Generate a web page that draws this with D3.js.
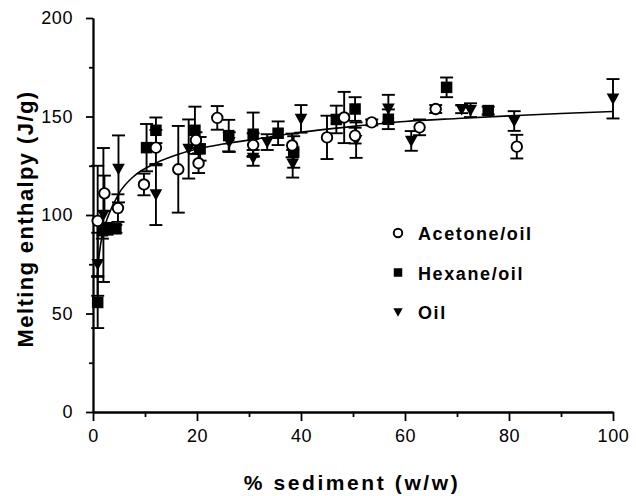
<!DOCTYPE html>
<html>
<head>
<meta charset="utf-8">
<script src="https://cdn.jsdelivr.net/npm/d3@7"></script>
<style>
  html, body { margin: 0; padding: 0; background: #fff; }
  svg { display: block; }
  text { font-family: "Liberation Sans", Arial, Helvetica, sans-serif; fill: #000; }
</style>
</head>
<body>
<svg id="chart" width="636" height="496"></svg>
<script>
// Acetone/oil extracts (open circles)
const acetoneX   = [0.9, 2.2, 4.8, 9.8, 12.1, 16.4, 19.8, 20.3, 23.9, 30.8, 38.3, 45.0, 48.3, 50.4, 53.6, 62.8, 65.9, 81.5];
const acetoneY   = [97, 111, 103.5, 115.5, 134.2, 123.2, 138, 126.3, 149.3, 135.5, 135.3, 139.4, 149.5, 140.3, 147, 144.5, 153.8, 134.7];
const acetoneErr = [28, 9, 7, 5.5, 9, 22, 4, 5, 6, 6, 6, 11, 13, 4, 1.5, 4, 2, 6];

// Hexane/oil extracts (filled squares)
const hexaneX   = [0.9, 1.8, 2.7, 4.4, 10.3, 12.1, 19.6, 20.6, 26.1, 30.8, 35.6, 38.6, 46.8, 50.4, 56.8, 68.0, 76.0];
const hexaneY   = [55.6, 92, 93, 93, 134.2, 143, 143, 133.6, 140.3, 141, 141.5, 132, 148.5, 153.8, 148.6, 164.8, 153];
const hexaneErr = [13, 4, 3, 2, 12, 6.5, 12, 6, 8, 11, 6, 8, 7, 6, 5, 5, 2];

// Oil only (filled down triangles)
const oilX   = [0.9, 2.0, 4.9, 12.1, 18.4, 26.2, 30.8, 33.5, 38.4, 40.0, 50.6, 56.8, 61.2, 70.9, 72.6, 81.0, 100];
const oilY   = [75, 100, 123.4, 110.4, 133.5, 137, 129, 137, 126, 148.8, 138, 154, 137.6, 153.7, 153.2, 147.7, 159];
const oilErr = [16, 34, 17, 15.5, 15, 5, 4, 4, 7, 7, 9, 7, 5, 2, 3.5, 5, 10];

// Fitted saturation curve through all extracts
const fitX = [0.8, 1.2, 2, 3, 5, 8, 11, 16, 20, 25, 30, 40, 50, 60, 70, 80, 90, 100];
const fitY = [68, 80, 92, 100, 111, 120, 125, 130.5, 133.5, 136, 138, 142, 145, 147.5, 149, 150.3, 151.5, 152.5];

// Axis ticks
const xMajorTicks = [0, 20, 40, 60, 80, 100];
const xMinorTicks = [10, 30, 50, 70, 90];
const yMajorTicks = [0, 50, 100, 150, 200];
const yMinorTicks = [25, 75, 125, 175];

const legendLabels = ["Acetone/oil", "Hexane/oil", "Oil"];

const svg = d3.select("#chart");
const x = d3.scaleLinear().domain([0, 100]).range([93, 613]);
const y = d3.scaleLinear().domain([0, 200]).range([412, 18]);

// Axes
const xAxis = d3.axisBottom(x).tickValues(xMajorTicks).tickSize(9).tickSizeOuter(0).tickPadding(8);
const xAxisMinor = d3.axisBottom(x).tickValues(xMinorTicks).tickSize(5).tickSizeOuter(0).tickFormat("");
const yAxis = d3.axisLeft(y).tickValues(yMajorTicks).tickSize(7).tickSizeOuter(0).tickPadding(13);
const yAxisMinor = d3.axisLeft(y).tickValues(yMinorTicks).tickSize(4).tickSizeOuter(0).tickFormat("");

function styleAxis(g) {
  g.selectAll("path, line").attr("stroke", "#000").attr("stroke-width", 1.8);
  g.selectAll("text").attr("font-size", 18).attr("fill", "#000")
    .attr("letter-spacing", 0.6)
    .style("font-family", '"Liberation Sans", Arial, sans-serif');
}

svg.append("g").attr("transform", `translate(0,${y(0)})`).call(xAxisMinor).call(styleAxis);
svg.append("g").attr("transform", `translate(0,${y(0)})`).call(xAxis).call(styleAxis);
svg.append("g").attr("transform", `translate(${x(0)},0)`).call(yAxisMinor).call(styleAxis);
svg.append("g").attr("transform", `translate(${x(0)},0)`).call(yAxis).call(styleAxis);

// Axis titles
svg.append("text")
  .attr("x", 352).attr("y", 490)
  .attr("text-anchor", "middle")
  .attr("font-size", 21).attr("font-weight", "bold")
  .attr("letter-spacing", 2.6)
  .text("% sediment (w/w)");

svg.append("text")
  .attr("transform", "translate(33,219) rotate(-90)")
  .attr("text-anchor", "middle")
  .attr("font-size", 22).attr("font-weight", "bold")
  .attr("letter-spacing", 1.4)
  .text("Melting enthalpy (J/g)");

// Fitted curve
const line = d3.line().x((d, i) => x(fitX[i])).y((d, i) => y(fitY[i])).curve(d3.curveMonotoneX);
svg.append("path")
  .datum(fitX)
  .attr("d", line)
  .attr("fill", "none")
  .attr("stroke", "#000")
  .attr("stroke-width", 1.6);

const series = [
  { name: legendLabels[0], xs: acetoneX, ys: acetoneY, es: acetoneErr, shape: "circle" },
  { name: legendLabels[1], xs: hexaneX, ys: hexaneY, es: hexaneErr, shape: "square" },
  { name: legendLabels[2], xs: oilX, ys: oilY, es: oilErr, shape: "triangle" }
];

// Error bars
const capHalf = 6.5;
series.forEach(s => {
  const pts = s.xs.map((v, i) => ({ x: v, y: s.ys[i], e: s.es[i] }));
  const g = svg.append("g").attr("stroke", "#000").attr("stroke-width", 1.9);
  pts.forEach(p => {
    const cx = x(p.x), top = y(p.y + p.e), bot = y(p.y - p.e);
    g.append("line").attr("x1", cx).attr("x2", cx).attr("y1", top).attr("y2", bot);
    g.append("line").attr("x1", cx - capHalf).attr("x2", cx + capHalf).attr("y1", top).attr("y2", top);
    g.append("line").attr("x1", cx - capHalf).attr("x2", cx + capHalf).attr("y1", bot).attr("y2", bot);
  });
});

function drawMarker(g, shape, cx, cy, size) {
  if (shape === "circle") {
    g.append("circle").attr("cx", cx).attr("cy", cy).attr("r", size * 0.5)
      .attr("fill", "#fff").attr("stroke", "#000").attr("stroke-width", 1.9);
  } else if (shape === "square") {
    g.append("rect").attr("x", cx - size / 2).attr("y", cy - size / 2)
      .attr("width", size).attr("height", size).attr("fill", "#000");
  } else {
    const w = size * 1.1, h = size;
    g.append("path")
      .attr("d", `M${cx - w / 2},${cy - h * 0.45}L${cx + w / 2},${cy - h * 0.45}L${cx},${cy + h * 0.55}Z`)
      .attr("fill", "#000");
  }
}

// Markers: squares and triangles first, open circles on top
[series[1], series[2], series[0]].forEach(s => {
  const g = svg.append("g");
  s.xs.forEach((v, i) => drawMarker(g, s.shape, x(v), y(s.ys[i]), s.shape === "circle" ? 10.5 : 11.5));
});

// Legend
const legend = svg.append("g");
series.forEach((s, i) => {
  const ly = 233 + i * 39.5;
  drawMarker(legend, s.shape, 398, ly, 8.5);
  legend.append("text")
    .attr("x", 418).attr("y", ly + 7)
    .attr("font-size", 18).attr("font-weight", "bold")
    .attr("letter-spacing", 1.6)
    .text(s.name);
});
</script>
</body>
</html>
